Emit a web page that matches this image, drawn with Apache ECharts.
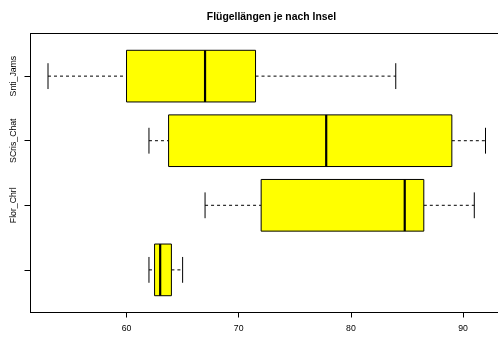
<!DOCTYPE html>
<html>
<head>
<meta charset="utf-8">
<script src="https://cdn.jsdelivr.net/npm/echarts@6/dist/echarts.min.js"></script>
<style>
  html, body { margin: 0; padding: 0; background: #fff; }
  #chart { width: 498px; height: 339px; }
</style>
</head>
<body>
<div id="chart"></div>
<script>
// Wing length per island: five-number summaries, bottom row first
const categories = ['', 'Flor_Chrl', 'SCris_Chat', 'Snti_Jams'];
const whiskerLow = [62, 67, 62, 53];
const q1 = [62.5, 72, 63.75, 60];
const median = [63, 84.8, 77.8, 67];
const q3 = [64, 86.5, 89, 71.5];
const whiskerHigh = [65, 91, 92, 84];
const xTicks = [60, 70, 80, 90];

const rows = categories.map((c, i) => [i + 1, whiskerLow[i], q1[i], median[i], q3[i], whiskerHigh[i]]);

const FONT = '"Liberation Sans", Arial, Helvetica, sans-serif';

function renderBox(params, api) {
  const pos = api.value(0);
  const lo = api.value(1), a = api.value(2), m = api.value(3), b = api.value(4), hi = api.value(5);
  const halfBox = api.size([0, 0.4])[1];
  const halfCap = api.size([0, 0.2])[1];
  const c = api.coord([m, pos]);
  const y = c[1];
  const xLo = api.coord([lo, pos])[0];
  const xA = api.coord([a, pos])[0];
  const xM = c[0];
  const xB = api.coord([b, pos])[0];
  const xHi = api.coord([hi, pos])[0];
  const dash = { stroke: '#000', lineWidth: 1, lineDash: [3, 3] };
  const solid = { stroke: '#000', lineWidth: 1 };
  return {
    type: 'group',
    children: [
      { type: 'line', shape: { x1: xLo, y1: y, x2: xA, y2: y }, style: dash },
      { type: 'line', shape: { x1: xB, y1: y, x2: xHi, y2: y }, style: dash },
      { type: 'line', shape: { x1: xLo, y1: y - halfCap, x2: xLo, y2: y + halfCap }, style: solid },
      { type: 'line', shape: { x1: xHi, y1: y - halfCap, x2: xHi, y2: y + halfCap }, style: solid },
      { type: 'rect', shape: { x: xA, y: y - halfBox, width: xB - xA, height: 2 * halfBox },
        style: { fill: '#ffff00', stroke: '#000', lineWidth: 1 } },
      { type: 'line', shape: { x1: xM, y1: y - halfBox, x2: xM, y2: y + halfBox },
        style: { stroke: '#000', lineWidth: 2.2 } }
    ]
  };
}

const chart = echarts.init(document.getElementById('chart'), null, { renderer: 'canvas' });
chart.setOption({
  animation: false,
  backgroundColor: '#fff',
  title: {
    text: 'Flügellängen je nach Insel',
    left: 266.5,
    textAlign: 'center',
    top: 7,
    textStyle: { fontFamily: FONT, fontSize: 10.4, fontWeight: 'bold', color: '#000' }
  },
  grid: {
    left: 30.5, top: 33.5, width: 472.5, height: 279,
    outerBoundsMode: 'none', containLabel: false,
    show: true, borderColor: '#000', borderWidth: 1, backgroundColor: 'transparent'
  },
  xAxis: {
    type: 'value', min: 51.44, max: 93.56,
    splitLine: { show: false },
    axisLine: { show: true, lineStyle: { color: '#000', width: 1 } },
    axisTick: { show: true, length: 5, customValues: xTicks, lineStyle: { color: '#000' } },
    axisLabel: { customValues: xTicks, margin: 12, color: '#000', fontFamily: FONT, fontSize: 8.7 }
  },
  yAxis: {
    type: 'value', min: 0.34, max: 4.66,
    splitLine: { show: false },
    axisLine: { show: true, lineStyle: { color: '#000', width: 1 } },
    axisTick: { show: true, length: 6, customValues: [1, 2, 3, 4], lineStyle: { color: '#000' } },
    axisLabel: {
      customValues: [1, 2, 3, 4], rotate: 90, margin: 12,
      color: '#000', fontFamily: FONT, fontSize: 8.7,
      formatter: v => categories[Math.round(v) - 1]
    }
  },
  series: [{
    type: 'custom',
    renderItem: renderBox,
    encode: { x: [1, 2, 3, 4, 5], y: 0 },
    data: rows,
    clip: false
  }]
});
</script>
</body>
</html>
